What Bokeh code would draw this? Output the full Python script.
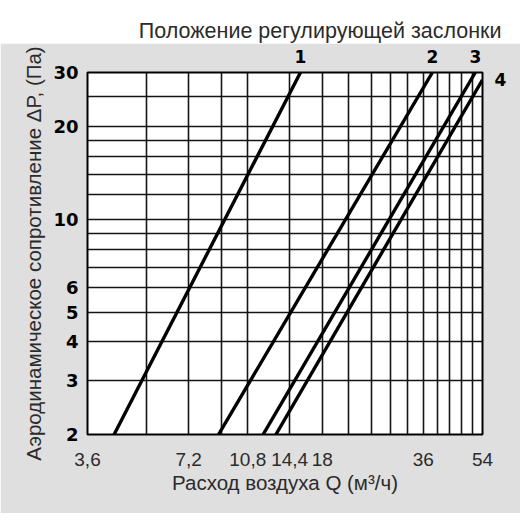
from bokeh.plotting import figure
from bokeh.models import Range1d, FixedTicker, CustomJSTickFormatter, LogAxis
from bokeh.layouts import column
from bokeh.embed import file_html
from bokeh.resources import INLINE

# ---------------- data ----------------
TITLE = "Положение регулирующей заслонки"
X_LABEL = "Расход воздуха Q (м³/ч)"
Y_LABEL = "Аэродинамическое сопротивление ΔP, (Па)"

x_ticks = [3.6, 7.2, 10.8, 14.4, 18, 36, 54]
x_tick_labels = ["3,6", "7,2", "10,8", "14,4", "18", "36", "54"]
x_grid = [3.6, 5.4, 7.2, 9.0, 10.8, 14.4, 18, 21.6, 25.2, 28.8, 32.4,
          36, 39.6, 43.2, 46.8, 50.4, 54]

y_ticks = [2, 3, 4, 5, 6, 10, 20, 30]
y_tick_labels = ["2", "3", "4", "5", "6", "10", "20", "30"]
y_grid = [2, 3, 4, 5, 6, 7, 8, 9, 10, 12, 14, 16, 18, 20, 25, 30]

positions = ["1", "2", "3", "4"]
line1_q = [4.32, 15.5]
line1_dp = [2, 30]
line2_q = [8.84, 38.3]
line2_dp = [2, 30]
line3_q = [12.0, 51.4]
line3_dp = [2, 30]
line4_q = [13.1, 54.0]
line4_dp = [2, 28.4]

GRAY = "#dfdfdf"
TXT = "#2b2b2b"
W = 520

# ---------------- title strip (white band above the grey panel) ----------------
top = figure(width=W, height=43, title=TITLE, x_range=Range1d(0, 1), y_range=Range1d(0, 1),
             output_backend="svg", toolbar_location=None, min_border=0,
             min_border_top=42, x_axis_location=None, y_axis_location=None)
top.grid.visible = False
top.outline_line_color = None
top.background_fill_color = "white"
top.border_fill_color = "white"
top.title.align = "right"
top.title.offset = -19
top.title.standoff = 0
top.title.text_font = "Liberation Sans"
top.title.text_font_style = "normal"
top.title.text_font_size = "21.5px"
top.title.text_color = TXT

# ---------------- main chart ----------------
p = figure(width=W, height=470, x_axis_type="log", y_axis_type="log",
           x_range=Range1d(3.6, 54), y_range=Range1d(2, 30),
           output_backend="svg", toolbar_location=None, title=None,
           min_border_left=87, min_border_right=38,
           min_border_top=29, min_border_bottom=79)
p.background_fill_color = "white"
p.border_fill_color = GRAY
p.outline_line_color = "black"
p.outline_line_width = 2

fmt_code = ("const i = tv.findIndex(t => Math.abs(t - tick) < 1e-9);"
            "return i >= 0 ? tl[i] : '';")

lines = [(line1_q, line1_dp), (line2_q, line2_dp), (line3_q, line3_dp), (line4_q, line4_dp)]

xa = p.xaxis[0]
xa.ticker = FixedTicker(ticks=x_ticks)
xa.formatter = CustomJSTickFormatter(args=dict(tv=x_ticks, tl=x_tick_labels), code=fmt_code)
ya = p.yaxis[0]
ya.ticker = FixedTicker(ticks=y_ticks)
ya.formatter = CustomJSTickFormatter(args=dict(tv=y_ticks, tl=y_tick_labels), code=fmt_code)

# damper position numbers at the end of each curve, as tick labels of extra axes
top_q = [q[-1] for q, dp in lines[:3]]
ax_top = LogAxis(ticker=FixedTicker(ticks=top_q),
                 formatter=CustomJSTickFormatter(args=dict(tv=top_q, tl=positions[:3]), code=fmt_code),
                 major_label_standoff=10)
right_dp = [lines[3][1][-1]]
ax_right = LogAxis(ticker=FixedTicker(ticks=right_dp),
                   formatter=CustomJSTickFormatter(args=dict(tv=right_dp, tl=positions[3:]), code=fmt_code),
                   major_label_standoff=12)
p.add_layout(ax_top, "above")
p.add_layout(ax_right, "right")

for ax in (xa, ya, ax_top, ax_right):
    ax.axis_line_color = None
    ax.major_tick_line_color = None
    ax.minor_tick_line_color = None
    ax.major_tick_in = 0
    ax.major_tick_out = 0
    ax.axis_label_text_font = "Liberation Sans"
    ax.axis_label_text_font_style = "normal"
    ax.axis_label_text_font_size = "20.5px"
    ax.axis_label_text_color = TXT

for ax in (ax_top, ax_right):
    ax.major_label_text_font = "DejaVu Sans"
    ax.major_label_text_font_style = "bold"
    ax.major_label_text_font_size = "17px"
    ax.major_label_text_color = "black"

xa.axis_label = X_LABEL
xa.major_label_standoff = 18
xa.axis_label_standoff = 2
xa.major_label_text_font = "Liberation Sans"
xa.major_label_text_font_size = "19px"
xa.major_label_text_color = TXT

ya.axis_label = Y_LABEL
ya.major_label_standoff = 9
ya.axis_label_standoff = 5
ya.major_label_text_font = "DejaVu Sans"
ya.major_label_text_font_style = "bold"
ya.major_label_text_font_size = "18px"
ya.major_label_text_color = "black"

p.xgrid.ticker = FixedTicker(ticks=x_grid)
p.ygrid.ticker = FixedTicker(ticks=y_grid)
for g in (p.xgrid[0], p.ygrid[0]):
    g.grid_line_color = "#151515"
    g.grid_line_width = 1.6
    g.grid_line_alpha = 1.0
    g.minor_grid_line_color = None

for q, dp in lines:
    p.line(q, dp, line_color="black", line_width=3.4)

layout = column(top, p, spacing=0)
open("out.html", "w").write(file_html(layout, INLINE))
